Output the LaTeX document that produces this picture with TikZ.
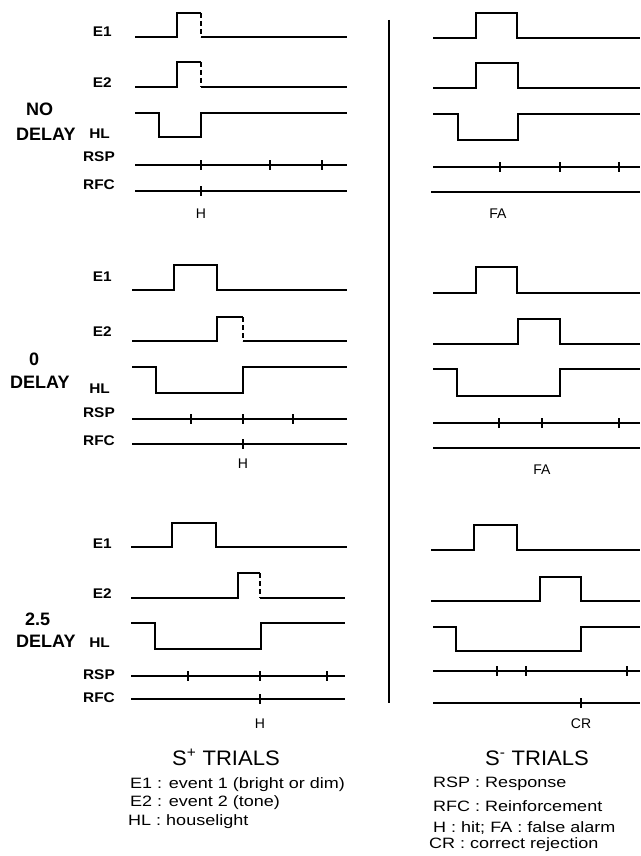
\documentclass[tikz,border=0pt]{standalone}
\usepackage{fontspec}
\setmainfont{Liberation Sans}
\begin{document}
\begin{tikzpicture}[x=1pt,y=-1pt,
  sig/.style={line width=1.3pt, line join=miter},
  dsh/.style={line width=1.3pt, dash pattern=on 5pt off 3pt},
  lab/.style={anchor=base east, inner sep=0pt, xscale=1.1, font=\fontsize{14}{14}\selectfont\bfseries},
  big/.style={anchor=base west, inner sep=0pt, font=\fontsize{18}{18}\selectfont\bfseries},
  res/.style={anchor=base, inner sep=0pt, font=\fontsize{14}{14}\selectfont},
  ttl/.style={anchor=base, inner sep=0pt, xscale=1.05, font=\fontsize{21}{21}\selectfont},
  leg/.style={anchor=base west, inner sep=0pt, xscale=1.2, font=\fontsize{15}{15}\selectfont}]
\useasboundingbox (0,0) rectangle (640,856);

% separator
\draw[sig] (389,20) -- (389,703);

% ===== LEFT: NO DELAY =====
\node[big] (nd1) at (26,116) {NO};
\node[big] (nd2) at (16,140) {DELAY};
\node[lab] (l1e1) at (112,37) {E1};
\node[lab] (l1e2) at (112,88) {E2};
\node[lab] (l1hl) at (110,139) {HL};
\node[lab] (l1rsp) at (115,161) {RSP};
\node[lab] (l1rfc) at (115,189) {RFC};
\draw[sig] (135,37) -- (177,37) -- (177,13) -- (201,13);
\draw[dsh] (201,13) -- (201,37);
\draw[sig] (201,37) -- (347,37);
\draw[sig] (135,87) -- (177,87) -- (177,62) -- (201,62);
\draw[dsh] (201,62) -- (201,87);
\draw[sig] (201,87) -- (347,87);
\draw[sig] (135,113) -- (159,113) -- (159,137) -- (201,137) -- (201,113) -- (347,113);
\draw[sig] (135,165) -- (347,165);
\foreach \t in {201,270,322} \draw[sig] (\t,160) -- (\t,170);
\draw[sig] (135,191) -- (347,191);
\draw[sig] (201,186) -- (201,196);
\node[res] (r1) at (201,218) {H};

% ===== LEFT: 0 DELAY =====
\node[big] (zd1) at (29,365) {0};
\node[big] (zd2) at (10,388) {DELAY};
\node[lab] (l2e1) at (112,281) {E1};
\node[lab] (l2e2) at (112,336) {E2};
\node[lab] (l2hl) at (110,393) {HL};
\node[lab] (l2rsp) at (115,417) {RSP};
\node[lab] (l2rfc) at (115,445) {RFC};
\draw[sig] (132,290) -- (174,290) -- (174,265) -- (217,265) -- (217,290) -- (347,290);
\draw[sig] (132,341) -- (217,341) -- (217,317) -- (243,317);
\draw[dsh] (243,317) -- (243,341);
\draw[sig] (243,341) -- (347,341);
\draw[sig] (132,367) -- (156,367) -- (156,393) -- (243,393) -- (243,367) -- (347,367);
\draw[sig] (132,419) -- (347,419);
\foreach \t in {191,243,293} \draw[sig] (\t,414) -- (\t,424);
\draw[sig] (132,444) -- (347,444);
\draw[sig] (243,439) -- (243,449);
\node[res] (r2) at (243,468) {H};

% ===== LEFT: 2.5 DELAY =====
\node[big] (td1) at (25,625) {2.5};
\node[big] (td2) at (16,647) {DELAY};
\node[lab] (l3e1) at (112,548) {E1};
\node[lab] (l3e2) at (112,598) {E2};
\node[lab] (l3hl) at (110,647) {HL};
\node[lab] (l3rsp) at (115,679) {RSP};
\node[lab] (l3rfc) at (115,702) {RFC};
\draw[sig] (131,547) -- (172,547) -- (172,523) -- (216,523) -- (216,547) -- (347,547);
\draw[sig] (131,598) -- (238,598) -- (238,573) -- (260,573);
\draw[dsh] (260,573) -- (260,598);
\draw[sig] (260,598) -- (345,598);
\draw[sig] (131,623) -- (155,623) -- (155,649) -- (261,649) -- (261,623) -- (345,623);
\draw[sig] (131,676) -- (345,676);
\foreach \t in {188,260,327} \draw[sig] (\t,671) -- (\t,681);
\draw[sig] (131,699) -- (345,699);
\draw[sig] (260,694) -- (260,704);
\node[res] (r3) at (260,728) {H};

% ===== RIGHT: top =====
\draw[sig] (433,38) -- (476,38) -- (476,13) -- (517,13) -- (517,38) -- (640,38);
\draw[sig] (433,88) -- (476,88) -- (476,63) -- (518,63) -- (518,88) -- (640,88);
\draw[sig] (433,114) -- (458,114) -- (458,140) -- (518,140) -- (518,114) -- (640,114);
\draw[sig] (433,167) -- (640,167);
\foreach \t in {500,560,619} \draw[sig] (\t,162) -- (\t,172);
\draw[sig] (431,192) -- (640,192);
\node[res] (r4) at (498,218) {FA};

% ===== RIGHT: middle =====
\draw[sig] (433,293) -- (476,293) -- (476,267) -- (517,267) -- (517,293) -- (640,293);
\draw[sig] (433,344) -- (518,344) -- (518,319) -- (560,319) -- (560,344) -- (640,344);
\draw[sig] (433,369) -- (457,369) -- (457,396) -- (560,396) -- (560,369) -- (640,369);
\draw[sig] (433,423) -- (640,423);
\foreach \t in {499,542,619} \draw[sig] (\t,418) -- (\t,428);
\draw[sig] (433,448) -- (640,448);
\node[res] (r5) at (542,474) {FA};

% ===== RIGHT: bottom =====
\draw[sig] (431,550) -- (474,550) -- (474,525) -- (517,525) -- (517,550) -- (640,550);
\draw[sig] (431,601) -- (540,601) -- (540,577) -- (581,577) -- (581,601) -- (640,601);
\draw[sig] (433,627) -- (456,627) -- (456,651) -- (581,651) -- (581,627) -- (640,627);
\draw[sig] (433,671) -- (640,671);
\foreach \t in {497,526,627} \draw[sig] (\t,666) -- (\t,676);
\draw[sig] (433,703) -- (640,703);
\draw[sig] (581,698) -- (581,708);
\node[res] (r6) at (581,728) {CR};

% ===== titles and legend =====
\node[ttl] (sp) at (226,765) {S\textsuperscript{+} TRIALS};
\node[ttl] (sm) at (537,765) {S\textsuperscript{-} TRIALS};
\node[leg] (g1) at (130,788) {E1 : event 1 (bright or dim)};
\node[leg] (g2) at (130,806) {E2 : event 2 (tone)};
\node[leg] (g3) at (128,825) {HL : houselight};
\node[leg] (g4) at (433,787) {RSP : Response};
\node[leg] (g5) at (433,811) {RFC : Reinforcement};
\node[leg] (g6) at (433,832) {H : hit; FA : false alarm};
\node[leg] (g7) at (429,848) {CR : correct rejection};
\end{tikzpicture}
\end{document}
